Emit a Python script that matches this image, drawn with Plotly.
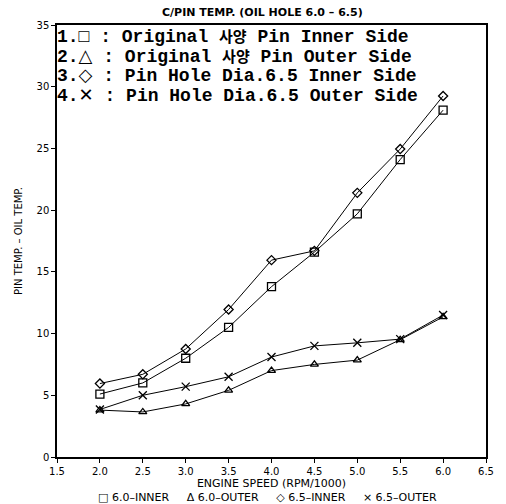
import plotly.graph_objects as go

speed = [2.0, 2.5, 3.0, 3.5, 4.0, 4.5, 5.0, 5.5, 6.0]
inner_60 = [5.1, 6.0, 8.0, 10.5, 13.8, 16.6, 19.7, 24.1, 28.1]
outer_60 = [3.8, 3.65, 4.3, 5.4, 7.0, 7.5, 7.85, 9.5, 11.35]
inner_65 = [5.95, 6.7, 8.75, 11.95, 15.95, 16.7, 21.4, 24.95, 29.25]
outer_65 = [3.85, 5.0, 5.7, 6.5, 8.1, 9.0, 9.25, 9.55, 11.5]

names = ["6.0-INNER", "6.0-OUTER", "6.5-INNER", "6.5-OUTER"]
symbols = ["square-open", "triangle-up-open", "diamond-open", "x-thin-open"]
sym_chars = ["\u25a1", "\u0394", "\u25c7", "\u00d7"]
series = [inner_60, outer_60, inner_65, outer_65]
sizes = [8, 7, 7, 8]

x_ticks = [1.5, 2.0, 2.5, 3.0, 3.5, 4.0, 4.5, 5.0, 5.5, 6.0, 6.5]
y_ticks = [0, 5, 10, 15, 20, 25, 30, 35]

kor = '<span style="font-size:15px">사양</span>'
legend_lines = [
    f"1.\u25a1 : Original {kor} Pin Inner Side",
    f"2.\u25b3 : Original {kor} Pin Outer Side",
    "3.\u25c7 : Pin Hole Dia.6.5 Inner Side",
    "4.\u2715 : Pin Hole Dia.6.5 Outer Side",
]

fig = go.Figure()
for n, s, y, sz in zip(names, symbols, series, sizes):
    fig.add_trace(go.Scatter(
        x=speed, y=y, name=n, mode="lines+markers",
        line=dict(color="black", width=1),
        marker=dict(symbol=s, size=sz, color="black", line=dict(color="black", width=1.3)),
        showlegend=False,
    ))

tickfont = dict(family="DejaVu Sans", size=10, color="black")
fig.update_layout(
    width=506, height=504,
    margin=dict(l=57, r=16, t=25, b=47),
    paper_bgcolor="white", plot_bgcolor="white",
    xaxis=dict(range=[1.5, 6.5], tickvals=x_ticks, ticktext=[f"{v:.1f}" for v in x_ticks],
               showgrid=False, zeroline=False, showline=True, linecolor="black", linewidth=1.5,
               mirror=True, ticks="outside", ticklen=4, tickcolor="black", tickfont=tickfont,
               title=dict(text="ENGINE SPEED (RPM/1000)", font=dict(family="DejaVu Sans", size=11, color="black"), standoff=1)),
    yaxis=dict(range=[0, 35], tickvals=y_ticks, showgrid=False, zeroline=False, showline=True,
               linecolor="black", linewidth=1.5, mirror=True, ticks="outside", ticklen=4,
               tickcolor="black", tickfont=tickfont,
               title=dict(text="PIN TEMP. \u2013 OIL TEMP.", font=dict(family="DejaVu Sans", size=10, color="black"), standoff=12)),
)

fig.add_annotation(x=0.48, y=1.0, xref="paper", yref="paper", yanchor="bottom", yshift=4,
                   text="C/PIN TEMP. (OIL HOLE 6.0 \u2013 6.5)", showarrow=False,
                   font=dict(family="DejaVu Sans", size=11, color="black", weight="bold"))

for i, line in enumerate(legend_lines):
    fig.add_annotation(x=0.0, xref="paper", xanchor="left", xshift=-2,
                       y=35, yref="y", yanchor="top", yshift=-1 - i * 19.5,
                       height=18, valign="middle",
                       text=line, showarrow=False,
                       font=dict(family="Liberation Mono, DejaVu Sans, Noto Sans CJK KR", size=18, color="black", weight="bold"))

bottom = "     ".join(f"{c} {n.replace('-', '\u2013')}" for c, n in zip(sym_chars, names))
fig.add_annotation(x=0.49, y=0, xref="paper", yref="paper", yanchor="top", yshift=-32,
                   text=bottom, showarrow=False,
                   font=dict(family="DejaVu Sans", size=11, color="black"))

fig.write_html("out.html")
